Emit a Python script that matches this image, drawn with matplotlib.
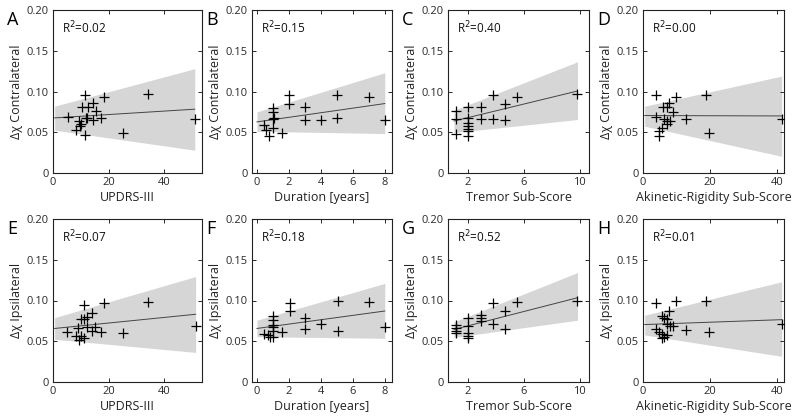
import matplotlib
matplotlib.use("Agg")
import matplotlib.pyplot as plt
import numpy as np

plt.rcParams['font.family'] = ['Open Sans', 'DejaVu Sans']

# ---------------- data ----------------
panel_letters = ["A", "B", "C", "D", "E", "F", "G", "H"]
x_labels = ["UPDRS-III", "Duration [years]", "Tremor Sub-Score", "Akinetic-Rigidity Sub-Score"]
y_labels = ["Δχ Contralateral", "Δχ Ipsilateral"]
r2_texts = ["0.02", "0.15", "0.40", "0.00", "0.07", "0.18", "0.52", "0.01"]

x_ticks = [[0, 20, 40], [0, 2, 4, 6, 8], [2, 6, 10], [0, 20, 40]]
x_lims = [(0, 53.6), (-0.31, 8.45), (0.57, 10.67), (0, 42.0)]
y_ticks = [0, 0.05, 0.10, 0.15, 0.20]
y_tick_labels = ["0", "0.05", "0.10", "0.15", "0.20"]

x_A = [5.4, 11.4, 10.4, 12.6, 14.4, 15.6, 18.4, 11.8, 12.2, 14.4, 17.4, 9.2, 9.6, 10.0, 8.4, 11.4, 25.2, 34.2, 51.0]
y_A = [0.069, 0.096, 0.081, 0.081, 0.0865, 0.076, 0.0935, 0.068, 0.0675, 0.065, 0.067, 0.0635, 0.0575, 0.060, 0.0525, 0.0465, 0.0495, 0.0975, 0.066]
x_B = [0.46, 0.56, 0.77, 1.0, 1.0, 1.0, 1.05, 1.0, 1.56, 2.0, 2.0, 3.0, 3.0, 4.0, 5.0, 5.0, 7.0, 8.0]
y_B = [0.0586, 0.0525, 0.0455, 0.0803, 0.075, 0.0668, 0.0672, 0.0557, 0.0492, 0.0963, 0.0852, 0.0811, 0.0648, 0.0656, 0.0963, 0.068, 0.0934, 0.0648]
x_C = [1.17, 1.17, 1.17, 2, 2, 2, 2, 2, 2, 2, 2.95, 2.95, 3.79, 3.79, 4.62, 4.62, 5.5, 9.79]
y_C = [0.0758, 0.0668, 0.0484, 0.0811, 0.068, 0.0615, 0.0574, 0.0545, 0.0512, 0.0455, 0.0811, 0.0668, 0.0963, 0.0668, 0.0852, 0.0648, 0.0934, 0.0975]
x_D = [4.0, 4.0, 6.1, 7.1, 7.8, 8.8, 9.9, 6.3, 7.1, 7.1, 8.1, 5.6, 4.9, 4.9, 12.8, 18.8, 19.8, 41.3]
y_D = [0.0963, 0.0689, 0.0811, 0.0811, 0.0861, 0.075, 0.0934, 0.0668, 0.0639, 0.0598, 0.0639, 0.0553, 0.0516, 0.0455, 0.0668, 0.0963, 0.0492, 0.0668]
x_E = [5.2, 11.2, 18.4, 10.2, 11.2, 12.2, 14.2, 9.0, 12.2, 15.2, 14.2, 17.2, 8.2, 10.0, 9.2, 11.2, 25.2, 34.2, 51.3]
y_E = [0.0617, 0.0948, 0.0968, 0.077, 0.077, 0.0798, 0.0851, 0.0665, 0.0669, 0.0669, 0.0629, 0.0617, 0.0565, 0.0565, 0.0516, 0.0536, 0.0597, 0.098, 0.069]
x_F = [0.46, 0.67, 0.83, 1, 1, 1, 1, 1, 1, 1.56, 2.04, 2.04, 3, 3, 4, 5.05, 5.05, 7, 8]
y_F = [0.0589, 0.0577, 0.0556, 0.0806, 0.0766, 0.0698, 0.0669, 0.0629, 0.0548, 0.0617, 0.0968, 0.0867, 0.079, 0.0645, 0.071, 0.1, 0.0629, 0.098, 0.0677]
x_G = [1.17, 1.17, 1.17, 1.17, 2, 2, 2, 2, 2, 2.95, 2.95, 2.95, 3.79, 3.79, 4.62, 4.62, 5.5, 9.79]
y_G = [0.0698, 0.0657, 0.0629, 0.0605, 0.079, 0.0686, 0.0605, 0.0565, 0.0536, 0.0827, 0.079, 0.0746, 0.0968, 0.071, 0.0867, 0.0645, 0.098, 0.1]
x_H = [4.0, 4.0, 5.6, 6.3, 7.1, 7.8, 9.9, 7.1, 8.1, 8.9, 4.7, 5.6, 6.3, 7.1, 5.6, 12.8, 18.8, 19.8, 41.3]
y_H = [0.0968, 0.0649, 0.0806, 0.079, 0.077, 0.0871, 0.0988, 0.0706, 0.0686, 0.0686, 0.0617, 0.0589, 0.0556, 0.0577, 0.0544, 0.0637, 0.1, 0.0609, 0.071]

# regression line end points and confidence band edges
fit_x = [[0.6, 51.0], [0.0, 8.0], [1.0, 9.85], [0.5, 41.3],
         [0.6, 51.3], [0.0, 8.0], [1.0, 9.85], [0.5, 41.3]]
fit_y = [[0.0676, 0.0783], [0.0627, 0.0852], [0.0638, 0.1006], [0.0705, 0.0700],
         [0.0657, 0.0831], [0.0657, 0.0871], [0.0645, 0.1034], [0.0705, 0.0765]]
band_lo = [[0.0525, 0.028], [0.0512, 0.0484], [0.0496, 0.0656], [0.0574, 0.0205],
           [0.0524, 0.0363], [0.0556, 0.0536], [0.0548, 0.0758], [0.0577, 0.0315]]
band_hi = [[0.082, 0.128], [0.075, 0.123], [0.077, 0.1365], [0.082, 0.1189],
           [0.079, 0.1294], [0.0758, 0.121], [0.0738, 0.1343], [0.0819, 0.123]]

xs = [x_A, x_B, x_C, x_D, x_E, x_F, x_G, x_H]
ys = [y_A, y_B, y_C, y_D, y_E, y_F, y_G, y_H]

# ---------------- layout ----------------
W, H = 800, 418
fig = plt.figure(figsize=(W / 100, H / 100), dpi=100)
col_px = [(53, 202), (252, 392), (448, 589), (643, 784)]
row_px = [(10, 173), (219, 382)]

tick_color = "#2a2a2a"
for i in range(8):
    r, c = divmod(i, 4)
    x0, x1 = col_px[c]
    y0, y1 = row_px[r]
    ax = fig.add_axes([x0 / W, 1 - y1 / H, (x1 - x0) / W, (y1 - y0) / H])

    ax.fill_between(fit_x[i], band_lo[i], band_hi[i], color="#d6d6d6", lw=0, zorder=1)
    ax.plot(fit_x[i], fit_y[i], color="#444444", lw=0.7, zorder=2)
    ax.plot(xs[i], ys[i], ls="none", marker="+", ms=7, mew=0.9, color="black", zorder=3)

    ax.set_xlim(*x_lims[c])
    ax.set_ylim(0, 0.2)
    ax.set_xticks(x_ticks[c])
    ax.set_xticklabels([str(t) for t in x_ticks[c]])
    ax.set_yticks(y_ticks)
    ax.set_yticklabels(y_tick_labels)
    ax.tick_params(direction="in", length=3, width=0.7, top=True, right=True,
                   labelsize=8, colors=tick_color, labelcolor=tick_color, pad=3)
    for s in ax.spines.values():
        s.set_linewidth(0.8)
        s.set_color("#222222")

    ax.set_xlabel(x_labels[c], fontsize=9, color="#222222", labelpad=2)
    ax.set_ylabel(y_labels[r], fontsize=9, color="#222222", labelpad=3)

    ax.annotate("R$^2$=" + r2_texts[i], xy=(0, 1), xycoords="axes fraction",
                xytext=(9, -10), textcoords="offset pixels", ha="left", va="top",
                fontsize=8.5, color="#111111")
    fig.text((x0 - 46) / W, 1 - (y0 + 1) / H, panel_letters[i], fontsize=13,
             ha="left", va="top", color="black")

fig.savefig("out.png", dpi=100)
